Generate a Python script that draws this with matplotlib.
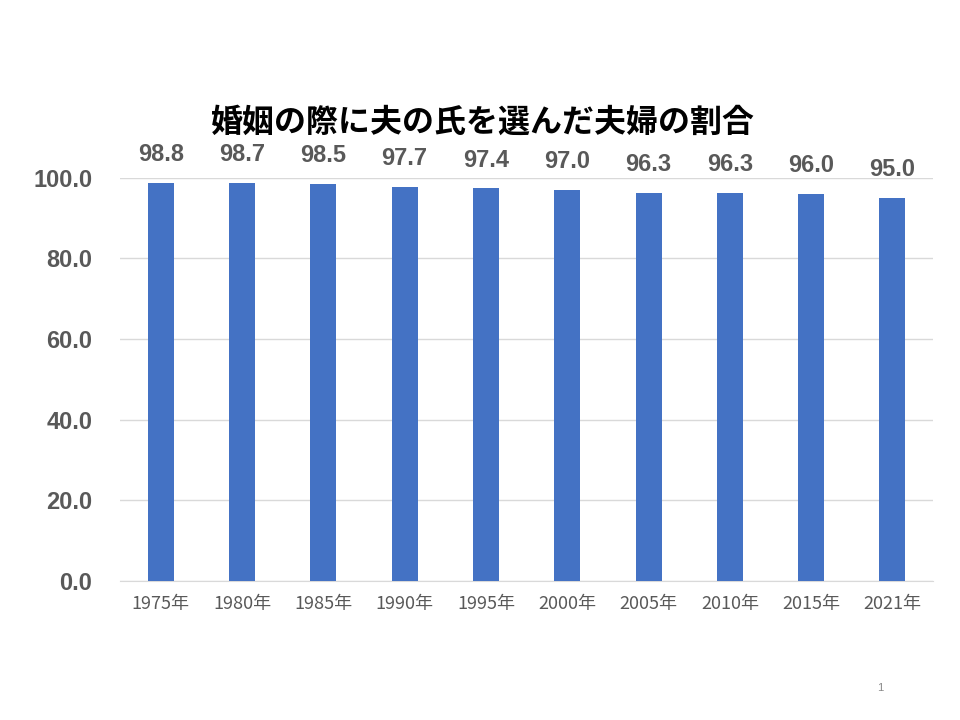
import matplotlib
matplotlib.use("Agg")
import matplotlib.pyplot as plt
import numpy as np

plt.rcParams['font.family'] = ['Liberation Sans', 'Noto Sans CJK JP', 'DejaVu Sans']

# データ
years = ["1975年", "1980年", "1985年", "1990年", "1995年",
         "2000年", "2005年", "2010年", "2015年", "2021年"]
values = [98.8, 98.7, 98.5, 97.7, 97.4, 97.0, 96.3, 96.3, 96.0, 95.0]
yticks = [0, 20, 40, 60, 80, 100]

bar_color = "#4472C4"
text_gray = "#595959"

fig = plt.figure(figsize=(9.6, 7.2), dpi=100)
ax = fig.add_axes([0.125, 0.193, 0.847, 0.560])

x = np.arange(len(years))
ax.bar(x, values, width=0.32, color=bar_color, zorder=3)

for xi, v in zip(x, values):
    ax.annotate(f"{v:.1f}", (xi, v), xytext=(0, 12), textcoords="offset points",
                ha="center", va="bottom", fontsize=17, fontweight="bold",
                color=text_gray)

ax.set_xlim(-0.5, len(years) - 0.5)
ax.set_ylim(0, 100)
ax.set_yticks(yticks)
ax.set_yticklabels([f"{t:.1f}" for t in yticks], fontsize=17,
                   fontweight="bold", color=text_gray)
ax.set_xticks(x)
ax.set_xticklabels(years, fontsize=13, color=text_gray,
                   family=['Noto Sans CJK JP', 'DejaVu Sans'])
ax.tick_params(axis="both", length=0)
ax.tick_params(axis="y", pad=20)
ax.tick_params(axis="x", pad=10)

ax.grid(axis="y", color="#D9D9D9", linewidth=1, zorder=0)
for side in ["top", "right", "left"]:
    ax.spines[side].set_visible(False)
ax.spines["bottom"].set_color("#D9D9D9")

fig.text(0.503, 0.83, "婚姻の際に夫の氏を選んだ夫婦の割合", ha="center", va="center",
         fontsize=23, fontweight="bold", color="black",
         family=['Noto Sans CJK JP', 'DejaVu Sans'])
fig.text(0.917, 0.044, "1", ha="center", va="center", fontsize=8, color="#888888")

fig.savefig("out.png", dpi=100)
